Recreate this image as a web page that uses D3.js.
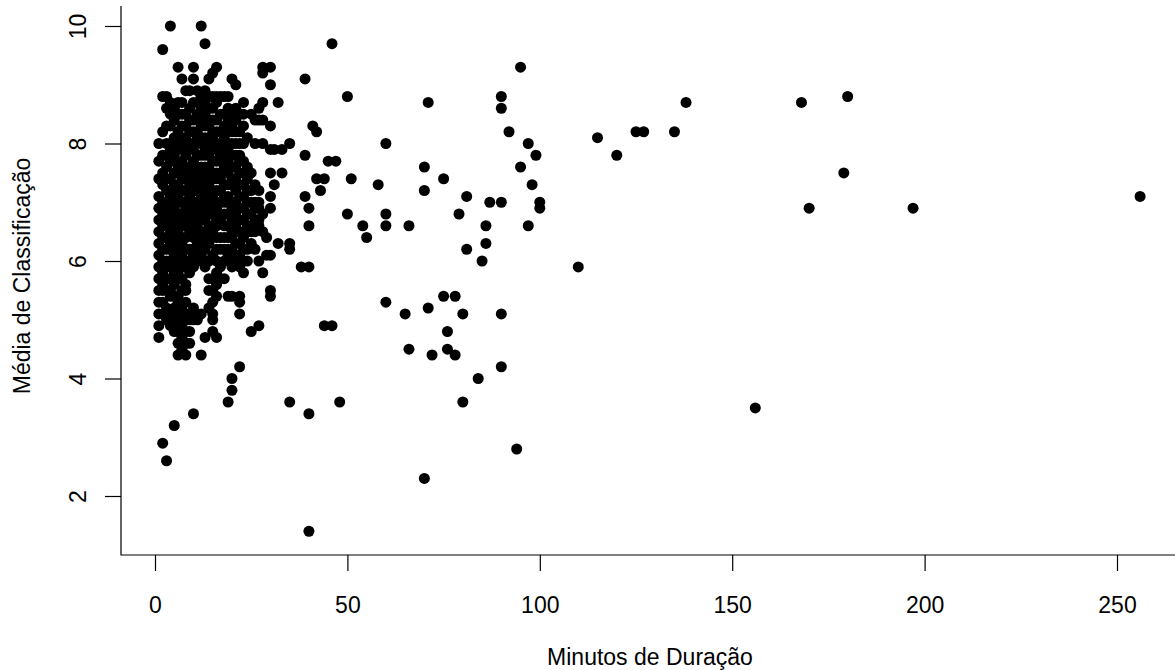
<!DOCTYPE html>
<html>
<head>
<meta charset="utf-8">
<script src="https://cdn.jsdelivr.net/npm/d3@7"></script>
<style>
    body { margin: 0; background: #fff; }
    text { font-family: "Liberation Sans", Arial, sans-serif; fill: #000; }
</style>
</head>
<body>
<svg id="chart" width="1175" height="670"></svg>
<script>
// filmes curtos (1-30 min): minuto -> medias
var curtos = [
    [1, [8.0, 7.7, 7.4, 7.1, 6.9, 6.7, 6.5, 6.3, 6.1, 5.9, 5.7, 5.5, 5.3, 5.1, 4.9, 4.7]],
    [2, [9.6, 8.8, 8.2, 7.8, 7.5, 7.3, 7.0, 6.8, 6.6, 6.4, 6.2, 6.0, 5.8, 5.6, 5.5, 5.3, 5.1, 2.9]],
    [3, [8.8, 8.6, 8.3, 8.0, 7.8, 7.6, 7.4, 7.2, 7.0, 6.9, 6.7, 6.4, 6.2, 6.0, 5.9, 5.7, 5.5, 5.2, 5.0, 2.6]],
    [4, [10.0, 8.7, 8.5, 8.3, 8.0, 7.9, 7.7, 7.4, 7.2, 7.1, 6.8, 6.6, 6.5, 6.3, 6.2, 6.0, 5.9, 5.7, 5.5, 5.4, 5.1, 4.9]],
    [5, [8.6, 8.4, 8.1, 7.8, 7.7, 7.5, 7.3, 7.2, 7.0, 6.9, 6.7, 6.5, 6.4, 6.2, 6.1, 5.9, 5.8, 5.6, 5.4, 5.2, 5.0, 4.8, 3.2]],
    [6, [9.3, 8.7, 8.5, 8.2, 8.0, 7.9, 7.6, 7.5, 7.3, 7.1, 7.0, 6.8, 6.6, 6.5, 6.3, 6.2, 6.0, 5.8, 5.7, 5.4, 5.3, 5.1, 4.9, 4.8, 4.6, 4.4]],
    [7, [9.1, 8.7, 8.5, 8.3, 8.1, 8.0, 7.7, 7.6, 7.4, 7.2, 7.0, 6.8, 6.7, 6.4, 6.3, 6.1, 5.9, 5.7, 5.5, 5.2, 5.0, 4.9, 4.7, 4.6, 4.5]],
    [8, [8.9, 8.5, 8.3, 8.1, 7.9, 7.8, 7.5, 7.4, 7.2, 7.0, 6.9, 6.7, 6.6, 6.4, 6.2, 6.0, 5.9, 5.6, 5.5, 5.3, 5.1, 5.0, 4.8, 4.6, 4.4]],
    [9, [8.9, 8.6, 8.4, 8.2, 8.0, 7.9, 7.6, 7.5, 7.3, 7.2, 7.1, 6.9, 6.8, 6.6, 6.5, 6.2, 6.0, 5.8, 5.1, 5.0, 4.8, 4.6]],
    [10, [9.3, 9.1, 8.7, 8.4, 8.2, 8.0, 7.9, 7.7, 7.5, 7.4, 7.2, 7.0, 6.8, 6.7, 6.5, 6.4, 6.2, 6.1, 5.9, 5.2, 5.0, 3.4]],
    [11, [8.9, 8.7, 8.5, 8.2, 8.1, 7.8, 7.6, 7.5, 7.3, 7.2, 7.0, 6.9, 6.6, 6.5, 6.3, 6.2, 6.0, 5.1, 5.0]],
    [12, [10.0, 8.8, 8.6, 8.4, 8.3, 8.1, 8.0, 7.8, 7.6, 7.4, 7.3, 7.1, 7.0, 6.8, 6.7, 6.5, 6.4, 6.2, 6.1, 5.1, 4.4]],
    [13, [9.7, 8.9, 8.7, 8.5, 8.3, 8.1, 7.9, 7.8, 7.6, 7.5, 7.3, 7.2, 7.0, 6.9, 6.7, 6.5, 6.3, 6.2, 6.0, 5.9, 4.7]],
    [14, [9.1, 8.8, 8.6, 8.4, 8.3, 8.1, 8.0, 7.8, 7.6, 7.4, 7.3, 7.1, 7.0, 6.8, 6.6, 6.4, 6.3, 6.0, 5.7, 5.5, 5.2]],
    [15, [9.2, 8.8, 8.6, 8.4, 8.2, 8.1, 7.9, 7.7, 7.5, 7.4, 7.2, 7.1, 6.9, 6.8, 6.6, 6.5, 6.1, 5.7, 5.5, 5.3, 5.1, 5.0, 4.8]],
    [16, [9.3, 8.8, 8.7, 8.4, 8.2, 8.0, 7.9, 7.7, 7.5, 7.4, 7.2, 7.0, 6.9, 6.7, 6.6, 6.4, 6.2, 6.0, 5.8, 5.6, 5.4, 4.7]],
    [17, [8.8, 8.5, 8.2, 8.0, 7.8, 7.7, 7.5, 7.4, 7.2, 7.0, 6.8, 6.7, 6.4, 6.2, 5.9, 5.7]],
    [18, [8.8, 8.5, 8.3, 8.1, 7.9, 7.8, 7.6, 7.3, 7.1, 7.0, 6.8, 6.6, 6.4, 6.2, 6.0, 5.7]],
    [19, [8.8, 8.6, 8.4, 8.2, 8.0, 7.9, 7.7, 7.5, 7.3, 7.1, 7.0, 6.8, 6.6, 6.4, 6.2, 6.1, 5.4, 3.6]],
    [20, [9.1, 8.5, 8.3, 8.2, 8.0, 7.8, 7.6, 7.4, 7.3, 7.0, 6.9, 6.7, 6.5, 6.4, 6.2, 6.0, 5.9, 5.4, 4.0, 3.8]],
    [21, [9.0, 8.6, 8.4, 8.2, 8.0, 7.8, 7.6, 7.4, 7.2, 7.0, 6.8, 6.6, 6.5, 6.3, 6.1, 6.0]],
    [22, [8.5, 8.2, 8.0, 7.8, 7.7, 7.5, 7.3, 7.1, 6.9, 6.7, 6.5, 6.3, 6.1, 5.9, 5.4, 5.3, 5.1, 4.2]],
    [23, [8.7, 8.5, 8.3, 8.0, 7.7, 7.5, 7.3, 7.1, 6.9, 6.7, 6.5, 6.4, 6.2, 6.0, 5.8]],
    [24, [8.1, 7.6, 7.4, 7.2, 7.0, 6.8, 6.6, 6.5, 6.2, 6.0]],
    [25, [8.5, 7.5, 7.2, 7.0, 6.8, 6.6, 6.5, 6.3, 4.8]],
    [26, [8.4, 8.0, 7.3, 7.0, 6.9, 6.7, 6.6, 6.5, 6.2]],
    [27, [8.6, 8.4, 7.2, 7.0, 6.9, 6.7, 6.6, 6.0, 4.9]],
    [28, [9.3, 9.2, 8.7, 8.4, 8.0, 6.8, 6.5, 5.8]],
    [29, [6.4, 6.1]],
    [30, [9.3, 9.0, 8.3, 7.9, 7.5, 7.1, 6.9, 6.1, 5.5, 5.4]]
]

// filmes mais longos: [minutos, media]
var longos = [
    [31, 7.9], [31, 7.3], [32, 8.7], [32, 6.3], [33, 7.9], [33, 7.5],
    [35, 8.0], [35, 6.3], [35, 6.2], [35, 3.6], [38, 5.9], [39, 9.1],
    [39, 7.8], [39, 7.1], [40, 6.9], [40, 6.6], [40, 5.9], [40, 3.4],
    [40, 1.4], [41, 8.3], [42, 8.2], [42, 7.4], [43, 7.2], [44, 7.4],
    [44, 4.9], [45, 7.7], [46, 9.7], [46, 4.9], [47, 7.7], [48, 3.6],
    [50, 8.8], [50, 6.8], [51, 7.4], [54, 6.6], [55, 6.4], [58, 7.3],
    [60, 8.0], [60, 6.8], [60, 6.6], [60, 5.3], [65, 5.1], [66, 6.6],
    [66, 4.5], [70, 7.6], [70, 7.2], [70, 2.3], [71, 8.7], [71, 5.2],
    [72, 4.4], [75, 7.4], [75, 5.4], [76, 4.8], [76, 4.5], [78, 5.4],
    [78, 4.4], [79, 6.8], [80, 5.1], [80, 3.6], [81, 7.1], [81, 6.2],
    [84, 4.0], [85, 6.0], [86, 6.6], [86, 6.3], [87, 7.0], [90, 8.8],
    [90, 8.6], [90, 7.0], [90, 5.1], [90, 4.2], [92, 8.2], [94, 2.8],
    [95, 9.3], [95, 7.6], [97, 8.0], [97, 6.6], [98, 7.3], [99, 7.8],
    [100, 7.0], [100, 6.9], [110, 5.9], [115, 8.1], [120, 7.8], [125, 8.2],
    [127, 8.2], [135, 8.2], [138, 8.7], [156, 3.5], [168, 8.7], [170, 6.9],
    [179, 7.5], [180, 8.8], [197, 6.9], [256, 7.1]
]

var xTicks = [0, 50, 100, 150, 200, 250]
var yTicks = [2, 4, 6, 8, 10]
var xTitle = 'Minutos de Duração'
var yTitle = 'Média de Classificação'

var pontos = []
curtos.forEach(function(c) {
    c[1].forEach(function(m) { pontos.push({ minutos: c[0], media: m }) })
})
longos.forEach(function(l) { pontos.push({ minutos: l[0], media: l[1] }) })

var svg = d3.select('#chart')
var x = d3.scaleLinear().domain([0, 250]).range([155, 1117])
var y = d3.scaleLinear().domain([2, 10]).range([496, 26])
var boxLeft = 121, boxBottom = 555, boxTop = 6, boxRight = 1175

// eixo em L (bty = "l")
svg.append('path')
    .attr('d', 'M' + boxLeft + ',' + boxTop + 'V' + boxBottom + 'H' + boxRight)
    .attr('fill', 'none')
    .attr('stroke', '#000')
    .attr('stroke-width', 1.2)

svg.append('g')
    .attr('transform', 'translate(0,' + boxBottom + ')')
    .call(d3.axisBottom(x).tickValues(xTicks).tickSize(16).tickPadding(26).tickSizeOuter(0))
    .call(function(g) {
        g.select('.domain').remove()
        g.selectAll('line').attr('stroke', '#000').attr('stroke-width', 1.2)
        g.selectAll('text').attr('font-size', 23).attr('font-family', '"Liberation Sans", Arial, sans-serif')
    })

svg.append('g')
    .attr('transform', 'translate(' + boxLeft + ',0)')
    .call(d3.axisLeft(y).tickValues(yTicks).tickSize(16).tickPadding(0).tickSizeOuter(0))
    .call(function(g) {
        g.select('.domain').remove()
        g.selectAll('line').attr('stroke', '#000').attr('stroke-width', 1.2)
        g.selectAll('text')
            .attr('font-size', 23)
            .attr('font-family', '"Liberation Sans", Arial, sans-serif')
            .attr('x', null).attr('dy', null)
            .attr('text-anchor', 'middle')
            .attr('transform', 'translate(-35,0) rotate(-90)')
    })

svg.append('text')
    .attr('x', 650).attr('y', 665)
    .attr('text-anchor', 'middle')
    .attr('font-size', 23)
    .text(xTitle)

svg.append('text')
    .attr('transform', 'translate(30,276) rotate(-90)')
    .attr('text-anchor', 'middle')
    .attr('font-size', 23)
    .text(yTitle)

svg.append('g')
    .selectAll('circle')
    .data(pontos)
    .enter()
    .append('circle')
    .attr('cx', function(d) { return x(d.minutos) })
    .attr('cy', function(d) { return y(d.media) })
    .attr('r', 5.5)
    .attr('fill', '#000')
</script>
</body>
</html>
